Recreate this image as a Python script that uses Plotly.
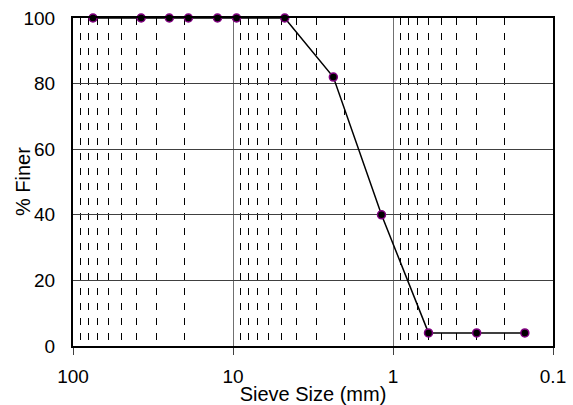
import plotly.graph_objects as go

sieve_mm = [75, 37.5, 25, 19, 12.5, 9.5, 4.75, 2.36, 1.18, 0.6, 0.3, 0.15]
pct_finer = [100, 100, 100, 100, 100, 100, 100, 82, 40, 4, 4, 4]
x_major = [100, 10, 1, 0.1]
x_major_text = ["100", "10", "1", "0.1"]
x_minor = [90, 80, 70, 60, 50, 40, 30, 20, 9, 8, 7, 6, 5, 4, 3, 2,
           0.9, 0.8, 0.7, 0.6, 0.5, 0.4, 0.3, 0.2]
y_ticks = [0, 20, 40, 60, 80, 100]

FONT = "Liberation Sans, Arial, sans-serif"

fig = go.Figure()
fig.add_trace(go.Scatter(
    x=sieve_mm, y=pct_finer, mode="lines+markers",
    line=dict(color="black", width=1.5),
    marker=dict(size=8, color="black", line=dict(color="#800080", width=1.5)),
    cliponaxis=False, showlegend=False,
))

fig.update_layout(
    width=573, height=405,
    margin=dict(l=73, r=20, t=18, b=59, autoexpand=False),
    paper_bgcolor="white", plot_bgcolor="white",
    font=dict(family=FONT, size=19, color="black"),
    xaxis=dict(
        type="log", range=[2, -1], automargin=False,
        tickvals=x_major, ticktext=x_major_text,
        ticks="outside", ticklen=7, tickcolor="#404040", tickwidth=1,
        ticklabelstandoff=5,
        showgrid=True, gridcolor="#707070", gridwidth=1,
        minor=dict(tickvals=x_minor, showgrid=True, gridcolor="black",
                   griddash="7px,8px", gridwidth=1, ticks=""),
        showline=True, linecolor="black", linewidth=2, mirror=True,
        zeroline=False,
        title=dict(text="Sieve Size (mm)", standoff=0, font=dict(size=20)),
    ),
    yaxis=dict(
        range=[0, 100], tickvals=y_ticks, automargin=False,
        ticks="", ticklabelstandoff=12,
        showgrid=True, gridcolor="#404040", gridwidth=1,
        showline=True, linecolor="black", linewidth=2, mirror=True,
        zeroline=False,
    ),
    annotations=[dict(
        text="% Finer", textangle=-90, showarrow=False,
        xref="paper", yref="paper", x=-50 / 480.0, y=0.5,
        xanchor="center", yanchor="middle", font=dict(size=20),
    )],
)

fig.write_html("out.html", config={"displayModeBar": False},
               post_script="document.body.style.margin='0';")
